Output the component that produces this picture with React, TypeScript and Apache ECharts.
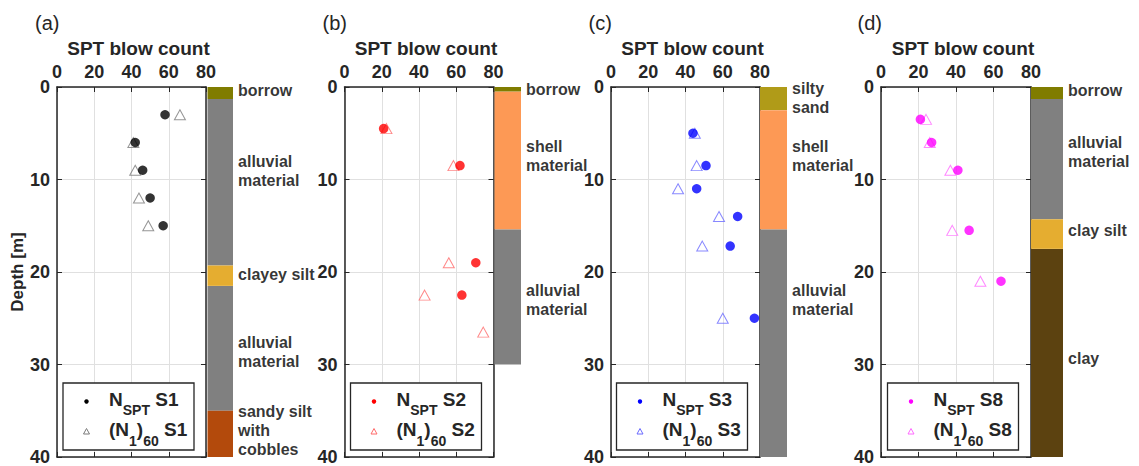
import React, { useEffect, useRef } from "react";
import * as echarts from "echarts";

// ---------------- data ----------------
const panelLetters = ["(a)", "(b)", "(c)", "(d)"];
const boreholes = ["S1", "S2", "S3", "S8"];
const xTickMax = 80;
const depthMax = 40;

// [SPT blow count, depth (m)]
const nsptS1 = [[58, 3], [42, 6], [46, 9], [50, 12], [57, 15]];
const n160S1 = [[66, 3], [41, 6], [42, 9], [44, 12], [49, 15]];
const nsptS2 = [[21, 4.5], [62, 8.5], [70.5, 19], [63, 22.5]];
const n160S2 = [[22.5, 4.5], [58.5, 8.5], [56, 19], [43, 22.5], [74.5, 26.5]];
const nsptS3 = [[44, 5], [51, 8.5], [46, 11], [68, 14], [64, 17.2], [77, 25]];
const n160S3 = [[45, 5], [46, 8.5], [36, 11], [58, 14], [49, 17.2], [60, 25]];
const nsptS8 = [[21, 3.5], [27, 6], [41, 9], [47, 15.5], [64, 21]];
const n160S8 = [[24, 3.5], [26, 6], [37, 9], [38, 15.5], [53, 21]];

// soil layers (material, bottom depth)
const strataS1 = ["borrow", "alluvial material", "clayey silt", "alluvial material", "sandy silt with cobbles"];
const bottomsS1 = [1.3, 19.3, 21.5, 35, 40];
const strataS2 = ["borrow", "shell material", "alluvial material"];
const bottomsS2 = [0.5, 15.4, 30];
const strataS3 = ["silty sand", "shell material", "alluvial material"];
const bottomsS3 = [2.5, 15.4, 40];
const strataS8 = ["borrow", "alluvial material", "clay silt", "clay"];
const bottomsS8 = [1.3, 14.3, 17.5, 40];

// layer labels (text, depth of label centre)
const labelsS1 = ["borrow", "alluvial\nmaterial", "clayey silt", "alluvial\nmaterial", "sandy silt\nwith\ncobbles"];
const labelDepthsS1 = [0.37, 9.1, 20.3, 28.6, 37.1];
const labelsS2 = ["borrow", "shell\nmaterial", "alluvial\nmaterial"];
const labelDepthsS2 = [0.3, 7.5, 23];
const labelsS3 = ["silty\nsand", "shell\nmaterial", "alluvial\nmaterial"];
const labelDepthsS3 = [1.2, 7.5, 23];
const labelsS8 = ["borrow", "alluvial\nmaterial", "clay silt", "clay"];
const labelDepthsS8 = [0.37, 7.0, 15.5, 29.3];

// ---------------- styles ----------------
const FONT = "'Liberation Sans', Arial, Helvetica, sans-serif";
const AX = "#262626";

const strataColors: Record<string, string> = {
  borrow: "#807c00",
  "alluvial material": "#808080",
  "clayey silt": "#e5ad30",
  "clay silt": "#e5ad30",
  "sandy silt with cobbles": "#b34a0c",
  "shell material": "#fd9955",
  "silty sand": "#b09b18",
  clay: "#5c4210",
};

const panels = [
  { nspt: nsptS1, n160: n160S1, strata: strataS1, bottoms: bottomsS1, labels: labelsS1, labelDepths: labelDepthsS1, color: "#000000", hollow: "#7a7a7a" },
  { nspt: nsptS2, n160: n160S2, strata: strataS2, bottoms: bottomsS2, labels: labelsS2, labelDepths: labelDepthsS2, color: "#ff0000", hollow: "#ff6a6a" },
  { nspt: nsptS3, n160: n160S3, strata: strataS3, bottoms: bottomsS3, labels: labelsS3, labelDepths: labelDepthsS3, color: "#0000ff", hollow: "#6a6aff" },
  { nspt: nsptS8, n160: n160S8, strata: strataS8, bottoms: bottomsS8, labels: labelsS8, labelDepths: labelDepthsS8, color: "#ff00ff", hollow: "#ff6aff" },
];

const layout = [
  { left: 57, width: 149, sLeft: 207.5, sWidth: 25.5, legendLeft: 63, letterX: 35 },
  { left: 344.5, width: 149, sLeft: 494.5, sWidth: 26.5, legendLeft: 350.5, letterX: 322.5 },
  { left: 611, width: 149, sLeft: 760, sWidth: 27, legendLeft: 616.5, letterX: 588.5 },
  { left: 881, width: 150, sLeft: 1031, sWidth: 32, legendLeft: 887.5, letterX: 857.5 },
];
const GRID_TOP = 87;
const GRID_H = 370;

function buildOption() {
  const grid: any[] = [];
  const xAxis: any[] = [];
  const yAxis: any[] = [];
  const series: any[] = [];
  const graphic: any[] = [];

  panels.forEach((p, i) => {
    const L = layout[i];
    grid.push({ left: L.left, top: GRID_TOP, width: L.width, height: GRID_H });
    grid.push({ left: L.sLeft, top: GRID_TOP, width: L.sWidth, height: GRID_H });
    const g = 2 * i;
    const axisLine = { show: true, onZero: false, lineStyle: { color: AX, width: 1.5 } };
    const tick = { show: true, inside: true, length: 5, lineStyle: { color: AX, width: 1 } };
    const split = { show: true, lineStyle: { color: "#e0e0e0", width: 1 } };
    // x top
    xAxis.push({
      gridIndex: g, type: "value", min: 0, max: xTickMax, interval: 20, position: "top",
      axisLine, axisTick: tick, splitLine: split,
      axisLabel: { show: true, fontSize: 18, fontWeight: "bold", color: AX, fontFamily: FONT, margin: 6, showMinLabel: true, showMaxLabel: true },
      name: "SPT blow count", nameLocation: "middle", nameGap: 28,
      nameTextStyle: { fontSize: 19, fontWeight: "bold", color: AX, fontFamily: FONT, padding: [0, 0, 0, 14] },
    });
    // x bottom
    xAxis.push({
      gridIndex: g, type: "value", min: 0, max: xTickMax, interval: 20, position: "bottom",
      axisLine, axisTick: tick, splitLine: { show: false }, axisLabel: { show: false },
    });
    // strata x
    xAxis.push({ gridIndex: g + 1, type: "category", data: ["layer"], show: false, boundaryGap: true });
    // y left
    yAxis.push({
      gridIndex: g, type: "value", min: 0, max: depthMax, interval: 10, inverse: true, position: "left",
      axisLine, axisTick: tick, splitLine: split,
      axisLabel: { show: true, fontSize: 18, fontWeight: "bold", color: AX, fontFamily: FONT, margin: 7 },
      name: i === 0 ? "Depth [m]" : "", nameLocation: "middle", nameGap: 30, nameRotate: 90,
      nameTextStyle: { fontSize: 17, fontWeight: "bold", color: AX, fontFamily: FONT },
    });
    // y right
    yAxis.push({
      gridIndex: g, type: "value", min: 0, max: depthMax, interval: 10, inverse: true, position: "right",
      axisLine, axisTick: tick, splitLine: { show: false }, axisLabel: { show: false },
    });
    // strata y
    yAxis.push({ gridIndex: g + 1, type: "value", min: 0, max: depthMax, inverse: true, show: false });

    const xi = 3 * i;
    series.push({
      type: "scatter", name: `(N1)60 ${boreholes[i]}`, xAxisIndex: xi, yAxisIndex: xi,
      data: p.n160, symbol: "triangle", symbolSize: [11, 10],
      itemStyle: { color: "rgba(255,255,255,0)", borderColor: p.hollow, borderWidth: 1 },
      z: 3,
    });
    series.push({
      type: "scatter", name: `NSPT ${boreholes[i]}`, xAxisIndex: xi, yAxisIndex: xi,
      data: p.nspt, symbol: "circle", symbolSize: 9.5,
      itemStyle: { color: p.color }, z: 4,
    });
    // strata bars
    p.strata.forEach((name, k) => {
      const top = k === 0 ? 0 : p.bottoms[k - 1];
      series.push({
        type: "bar", xAxisIndex: xi + 2, yAxisIndex: xi + 2, stack: `st${i}`,
        barWidth: "100%", data: [p.bottoms[k] - top],
        itemStyle: { color: strataColors[name] }, silent: true,
      });
    });
    // strata labels
    series.push({
      type: "scatter", xAxisIndex: xi + 2, yAxisIndex: xi + 2,
      data: p.labels.map((t, k) => [0, p.labelDepths[k], t]),
      symbolSize: 0.1, itemStyle: { color: "rgba(0,0,0,0)" }, z: 5,
      label: {
        show: true, position: "right", distance: L.sWidth / 2 + 5,
        formatter: (q: any) => q.data[2],
        fontSize: 16, fontWeight: "bold", color: "#000", fontFamily: FONT, lineHeight: 19, align: "left",
      },
    });

    // panel letter
    graphic.push({
      type: "text", x: L.letterX, y: 23,
      style: { text: panelLetters[i], font: `20px ${FONT}`, fill: AX, verticalAlign: "middle", textVerticalAlign: "middle", align: "left", textAlign: "left" },
    });
    // legend
    const LL = L.legendLeft;
    const r1 = 399, r2 = 429.5;
    const mx = LL + 23.5;
    const rich = {
      m: { fontSize: 19, fontWeight: "bold", fontFamily: FONT, fill: AX, color: AX, height: 20, verticalAlign: "top" },
      s: { fontSize: 14, fontWeight: "bold", fontFamily: FONT, fill: AX, color: AX, height: 42, verticalAlign: "top" },
    };
    graphic.push({
      type: "rect", shape: { x: LL, y: 383, width: 131, height: 67 },
      style: { fill: "#fff", stroke: AX, lineWidth: 1.3 }, z: 10,
    });
    graphic.push({ type: "circle", shape: { cx: mx, cy: r1 + 2.5, r: 2.2 }, style: { fill: p.color }, z: 11 });
    graphic.push({
      type: "polygon", shape: { points: [[mx - 3, r2 + 4.5], [mx + 3, r2 + 4.5], [mx, r2 - 1]] },
      style: { fill: "none", stroke: p.hollow, lineWidth: 1 }, z: 11,
    });
    graphic.push({
      type: "text", x: LL + 46, y: r1 - 10, z: 11,
      style: { text: `{m|N}{s|SPT}{m| ${boreholes[i]}}`, rich, verticalAlign: "top", textVerticalAlign: "top", align: "left", textAlign: "left" },
    });
    graphic.push({
      type: "text", x: LL + 46, y: r2 - 10, z: 11,
      style: { text: `{m|(N}{s|1}{m|)}{s|60}{m| ${boreholes[i]}}`, rich, verticalAlign: "top", textVerticalAlign: "top", align: "left", textAlign: "left" },
    });
  });

  return {
    animation: false,
    backgroundColor: "#ffffff",
    textStyle: { fontFamily: FONT },
    grid, xAxis, yAxis, series, graphic,
  };
}

export default function App() {
  const ref = useRef<HTMLDivElement>(null);
  useEffect(() => {
    document.body.style.margin = "0";
    document.body.style.overflow = "hidden";
    const chart = echarts.init(ref.current!, null, { renderer: "svg" });
    chart.setOption(buildOption() as any);
    return () => chart.dispose();
  }, []);
  return <div ref={ref} style={{ width: 1139, height: 466 }} />;
}
